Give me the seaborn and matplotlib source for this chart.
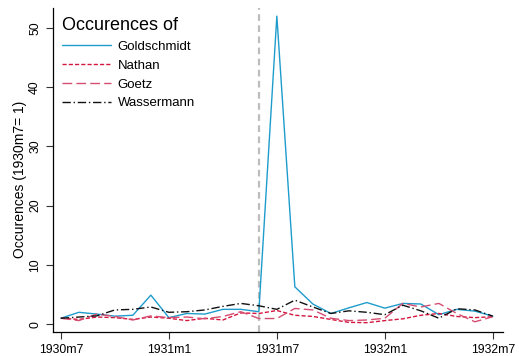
import matplotlib
matplotlib.use("Agg")
import matplotlib.pyplot as plt
import seaborn as sns
import pandas as pd
import numpy as np

months = ["1930m7","1930m8","1930m9","1930m10","1930m11","1930m12",
          "1931m1","1931m2","1931m3","1931m4","1931m5","1931m6",
          "1931m7","1931m8","1931m9","1931m10","1931m11","1931m12",
          "1932m1","1932m2","1932m3","1932m4","1932m5","1932m6","1932m7"]
goldschmidt = [1.0, 2.0, 1.7, 1.35, 1.5, 4.9, 1.1, 1.8, 1.7, 2.5, 2.5, 2.1,
               52.0, 6.3, 3.4, 1.8, 2.75, 3.65, 2.7, 3.5, 3.4, 1.6, 2.5, 2.2, 1.35]
nathan = [1.0, 0.8, 1.2, 1.1, 0.8, 1.2, 1.0, 0.6, 1.0, 0.7, 1.9, 1.8,
          2.3, 1.5, 1.3, 0.8, 0.3, 0.25, 0.6, 0.9, 1.5, 1.8, 1.3, 1.1, 1.25]
goetz = [1.0, 0.6, 1.7, 1.3, 0.7, 1.4, 1.1, 1.2, 0.9, 1.3, 2.1, 0.95,
         0.95, 2.65, 2.4, 1.0, 0.6, 0.7, 1.0, 3.5, 2.9, 3.5, 1.8, 0.4, 1.25]
wassermann = [1.0, 1.2, 1.4, 2.4, 2.5, 2.9, 2.0, 2.1, 2.4, 3.0, 3.5, 3.1,
              2.5, 4.05, 2.9, 1.8, 2.25, 2.0, 1.6, 3.2, 2.25, 1.0, 2.6, 2.4, 1.35]
tick_pos = [0, 6, 12, 18, 24]
tick_labels = ["1930m7", "1931m1", "1931m7", "1932m1", "1932m7"]
event_month = 11
y_ticks = [0, 10, 20, 30, 40, 50]

sns.set_style("ticks")
plt.rcParams['font.family'] = ['Liberation Sans', 'DejaVu Sans']
plt.rcParams['text.color'] = 'black'
plt.rcParams['axes.labelcolor'] = 'black'
plt.rcParams['xtick.color'] = 'black'
plt.rcParams['ytick.color'] = 'black'

t = np.arange(len(months))
df = pd.DataFrame({"t": t, "Goldschmidt": goldschmidt, "Nathan": nathan,
                   "Goetz": goetz, "Wassermann": wassermann})

fig = plt.figure(figsize=(5.19, 3.56), dpi=100)
ax = fig.add_axes([0.102, 0.067, 0.867, 0.911])

ax.axvline(event_month, color="#bdbdbd", linestyle=(0, (3, 2)), linewidth=1.6, zorder=1)

styles = [
    ("Goldschmidt", "#1e9ccc", "-"),
    ("Nathan", "#d4173f", (0, (3, 1.5))),
    ("Goetz", "#d64d72", (0, (7, 3))),
    ("Wassermann", "#111111", (0, (6, 2, 1, 2))),
]
for name, col, ls in styles:
    sns.lineplot(data=df, x="t", y=name, ax=ax, color=col, linestyle=ls,
                 linewidth=1.0, label=name)

ax.set_xlim(-0.44, 24.56)
ax.set_ylim(-1.35, 53.4)
ax.set_xticks(tick_pos)
ax.set_xticklabels(tick_labels)
ax.set_yticks(y_ticks)
ax.set_yticklabels([str(v) for v in y_ticks], rotation=90, va="center")
ax.tick_params(axis="both", labelsize=8.8, length=5, width=0.8, color="#333333")
ax.set_xlabel("")
ax.set_ylabel("Occurences (1930m7= 1)", fontsize=10)
ax.yaxis.set_label_coords(-0.058, 0.47)
sns.despine(ax=ax)
for sp in ["left", "bottom"]:
    ax.spines[sp].set_linewidth(0.9)
    ax.spines[sp].set_color("black")

leg = ax.legend(loc="upper left", frameon=False, fontsize=9.5, title="Occurences of",
                title_fontsize=13, handlelength=3.7, handletextpad=0.5,
                labelspacing=0.5, borderaxespad=0.3, bbox_to_anchor=(0.0, 1.0))
leg._legend_box.align = "left"

fig.savefig("out.png", dpi=100)
